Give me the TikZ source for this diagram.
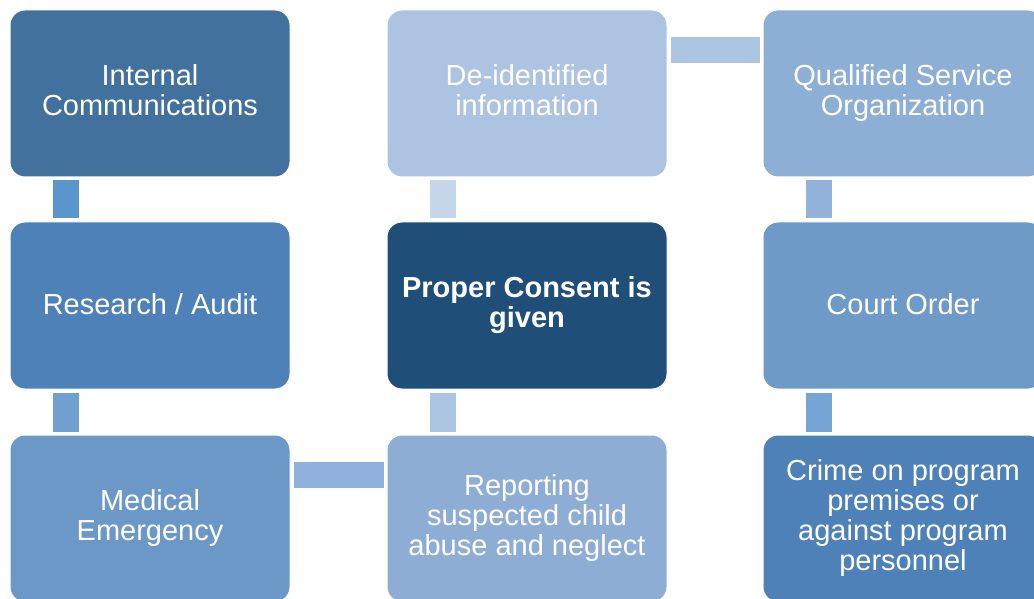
\documentclass[tikz,border=0pt]{standalone}
\usepackage{fontspec}
\setmainfont{Liberation Sans}
\newlength{\du}
\setlength{\du}{1pt}
\newcommand{\topstrut}{\rule{0pt}{26\du}}
\newcommand{\botstrut}{\rule[-7\du]{0pt}{7\du}}
% box colours
\definecolor{internalcolor}{HTML}{41719C}
\definecolor{researchcolor}{HTML}{4F81B9}
\definecolor{medicalcolor}{HTML}{6C98C7}
\definecolor{deidentcolor}{HTML}{ADC3E2}
\definecolor{consentcolor}{HTML}{1F4E79}
\definecolor{reportcolor}{HTML}{8EADD5}
\definecolor{qualifiedcolor}{HTML}{8DAED5}
\definecolor{courtcolor}{HTML}{6D9AC7}
\definecolor{crimecolor}{HTML}{4F81B9}
% bar colours
\definecolor{barcolorA}{HTML}{5A96CB}
\definecolor{barcolorB}{HTML}{6FA0D0}
\definecolor{barcolorC}{HTML}{C5D5EA}
\definecolor{barcolorD}{HTML}{ABC4E2}
\definecolor{barcolorE}{HTML}{93B3DC}
\definecolor{barcolorF}{HTML}{75A5D5}
\definecolor{barcolorG}{HTML}{ABC4E2}
\definecolor{barcolorH}{HTML}{8FB1DC}
\tikzset{
  stepbox/.style={rectangle, rounded corners=15\du, minimum width=280\du,
    minimum height=167\du, inner sep=0pt, draw=white, line width=1\du,
    text=white, align=center, font=\fontsize{29}{30}\selectfont,
    execute at begin node=\topstrut, execute at end node=\botstrut},
  linkbar/.style={line width=26\du, shorten <=3\du, shorten >=3\du},
}

\begin{document}
\begin{tikzpicture}
\useasboundingbox (0\du,0\du) rectangle (1034\du,598\du);
% left column
\node[stepbox, fill=internalcolor] (internal) at (150\du,504.5\du) {Internal\\Communications};
\node[stepbox, fill=researchcolor] (research) at (150\du,292.5\du) {Research / Audit};
\node[stepbox, fill=medicalcolor] (medical) at (150\du,79.5\du) {Medical\\Emergency};
% middle column
\node[stepbox, fill=deidentcolor] (deident) at (527\du,504.5\du) {De-identified\\information};
\node[stepbox, fill=consentcolor, font=\fontsize{29}{30}\selectfont\bfseries] (consent) at (527\du,292.5\du) {Proper Consent is\\given};
\node[stepbox, fill=reportcolor] (report) at (527\du,79.5\du) {Reporting\\suspected child\\abuse and neglect};
% right column
\node[stepbox, fill=qualifiedcolor] (qualified) at (903\du,504.5\du) {Qualified Service\\Organization};
\node[stepbox, fill=courtcolor] (court) at (903\du,292.5\du) {Court Order};
\node[stepbox, fill=crimecolor] (crime) at (903\du,79.5\du) {Crime on program\\premises or\\against program\\personnel};
% bars
\draw[linkbar, barcolorA] ([xshift=56\du]internal.south west) -- ([xshift=56\du]research.north west);
\draw[linkbar, barcolorB] ([xshift=56\du]research.south west) -- ([xshift=56\du]medical.north west);
\draw[linkbar, barcolorH] ([yshift=-40.5\du]medical.north east) -- ([yshift=-40.5\du]report.north west);
\draw[linkbar, barcolorD] ([xshift=56\du]report.north west) -- ([xshift=56\du]consent.south west);
\draw[linkbar, barcolorC] ([xshift=56\du]consent.north west) -- ([xshift=56\du]deident.south west);
\draw[linkbar, barcolorG] ([yshift=-40.5\du]deident.north east) -- ([yshift=-40.5\du]qualified.north west);
\draw[linkbar, barcolorE] ([xshift=56\du]qualified.south west) -- ([xshift=56\du]court.north west);
\draw[linkbar, barcolorF] ([xshift=56\du]court.south west) -- ([xshift=56\du]crime.north west);
\end{tikzpicture}
\end{document}
